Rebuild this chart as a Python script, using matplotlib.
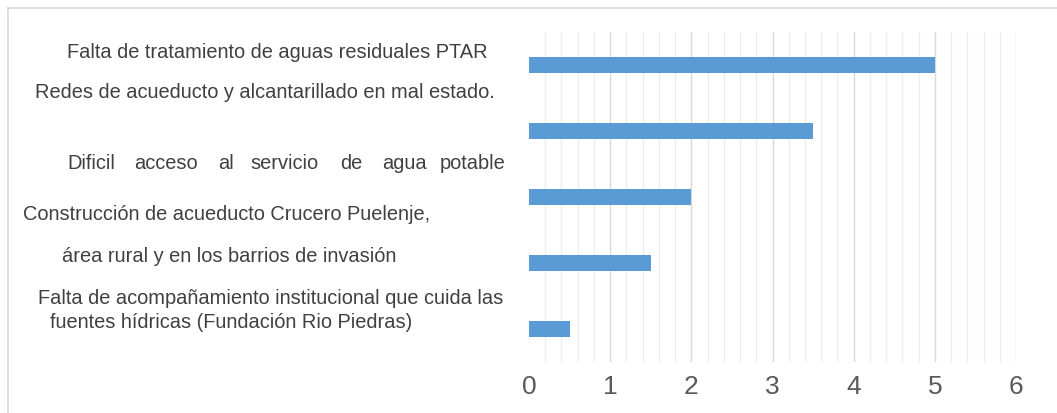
import matplotlib.pyplot as plt
from matplotlib.lines import Line2D
from matplotlib.ticker import MultipleLocator

# datos
causas = ['Falta de tratamiento de aguas residuales PTAR',
          'Redes de acueducto y alcantarillado en mal estado.',
          'Dificil acceso al servicio de agua potable',
          'Construcción de acueducto Crucero Puelenje, área rural y en los barrios de invasión',
          'Falta de acompañamiento institucional que cuida las fuentes hídricas (Fundación Rio Piedras)']
valores = [5, 3.5, 2, 1.5, 0.5]
ticks_x = [0, 1, 2, 3, 4, 5, 6]

W, H = 1057, 413
fig = plt.figure(figsize=(W / 100, H / 100), dpi=100)
plt.rcParams['font.family'] = ['Liberation Sans', 'DejaVu Sans']

ax = fig.add_axes([529 / W, 1 - 362 / H, (1016 - 529) / W, (362 - 32) / H])
pos = list(range(len(causas)))
ax.barh(pos, valores, height=0.23, color='#5b9bd5', zorder=3)
ax.set_ylim(len(causas) - 0.5, -0.5)
ax.set_xlim(0, 6)
ax.set_yticks([])
ax.set_xticks(ticks_x)
ax.set_xticklabels([str(t) for t in ticks_x])
ax.xaxis.set_minor_locator(MultipleLocator(0.2))
ax.tick_params(axis='x', which='both', length=0, labelsize=19, labelcolor='#595959', pad=9)
ax.grid(axis='x', which='major', color='#d9d9d9', lw=1.0, zorder=0)
ax.grid(axis='x', which='minor', color='#ededed', lw=1.0, zorder=0)
for s in ax.spines.values():
    s.set_visible(False)
# sin linea de cuadricula en 0
ax.get_xgridlines()[0].set_visible(False)

# etiquetas (posiciones en pixeles de la figura)
def txt(x, y, s, **kw):
    fig.text(x / W, 1 - y / H, s, ha='left', va='center', fontsize=14.4, color='#404040', **kw)

txt(67, 52, 'Falta de tratamiento de aguas residuales PTAR')
txt(35, 93, 'Redes de acueducto y alcantarillado en mal estado.')
palabras = causas[2].split()
xs = [67, 134, 218, 250, 340, 382, 440]
for x, p in zip(xs, palabras):
    txt(x, 164, p)
txt(23, 215, 'Construcción de acueducto Crucero Puelenje,')
txt(62, 256, 'área rural y en los barrios de invasión')
txt(38, 298, 'Falta de acompañamiento institucional que cuida las')
txt(50, 323, 'fuentes hídricas (Fundación Rio Piedras)')

# borde del grafico
fig.add_artist(Line2D([8 / W, 8 / W], [0, 1 - 8 / H], color='#d9d9d9', lw=1.2))
fig.add_artist(Line2D([8 / W, 1], [1 - 8 / H, 1 - 8 / H], color='#d9d9d9', lw=1.2))

fig.savefig('out.png', dpi=100)
